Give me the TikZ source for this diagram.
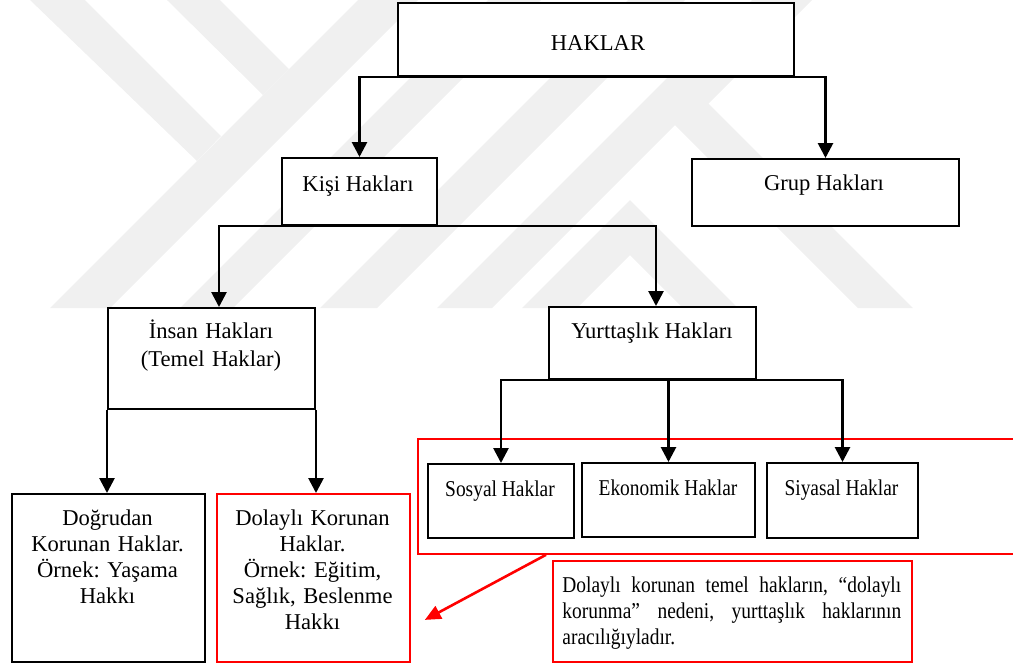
\documentclass[tikz,border=0pt]{standalone}
\usepackage{graphicx}
\usepackage{fontspec}
\setmainfont{Liberation Serif}
\usetikzlibrary{arrows.meta}

\definecolor{wmgray}{RGB}{240,240,240}
\newcommand{\sqz}[1]{\scalebox{0.86}[1]{#1}}

\tikzset{
  box/.style={draw=black, line width=1pt, fill=white, inner sep=0pt, anchor=north west},
  redbox/.style={box, draw=red, line width=0.9pt},
  lbl/.style={inner sep=0pt, anchor=base, font=\fontsize{11.3}{13}\selectfont\frenchspacing},
  arr/.style={line width=1.35pt, -{Triangle[width=7.5pt,length=7.5pt]}},
  redarr/.style={draw=red, line width=1.3pt, -{Triangle[width=7pt,length=8pt]}}
}

\begin{document}
\begin{tikzpicture}[x=0.5pt,y=-0.5pt]
	\useasboundingbox (0,0) rectangle (1013,666);
	\clip (0,0) rectangle (1013,666);
	% watermark
	\fill[wmgray] (30,0) -- (85,0) -- (221,136) -- (197,161) -- cycle;
	\fill[wmgray] (167,0) -- (220,0) -- (289,69) -- (263,95) -- cycle;
	\fill[wmgray] (50,308) -- (110,308) -- (418,0) -- (358,0) -- cycle;
	\fill[wmgray] (180,308) -- (233,308) -- (541,0) -- (488,0) -- cycle;
	\fill[wmgray] (320,308) -- (377,308) -- (685,0) -- (628,0) -- cycle;
	\fill[wmgray] (752,0) -- (812,0) -- (690,122) -- (660,92) -- cycle;
	\fill[wmgray] (437,308) -- (675,70) -- (913,308) -- (858,308) -- (675,125) -- (492,308) -- cycle;
	\fill[wmgray] (522,308) -- (630,200) -- (738,308) -- (683,308) -- (630,255) -- (577,308) -- cycle;
	% boxes
	\node[redbox, fill=none, minimum width=301.5pt, minimum height=57.5pt] (grp) at (417,438) {};
	\node[box, minimum width=198pt, minimum height=36.5pt] (haklar) at (397,2) {};
	\node[box, minimum width=77.5pt, minimum height=33.5pt] (kisi) at (281,157) {};
	\node[box, minimum width=133.5pt, minimum height=33.5pt] (grup) at (691,158) {};
	\node[box, minimum width=103.5pt, minimum height=50.5pt] (insan) at (107,307) {};
	\node[box, minimum width=103.5pt, minimum height=36pt] (yurt) at (548,306) {};
	\node[box, minimum width=96.5pt, minimum height=84pt] (dogrudan) at (11,493) {};
	\node[redbox, minimum width=96.5pt, minimum height=84pt] (dolayli) at (216,493) {};
	\node[box, minimum width=73pt, minimum height=37pt] (sosyal) at (427,463) {};
	\node[box, minimum width=86.5pt, minimum height=37pt] (ekonomik) at (581,462) {};
	\node[box, minimum width=75.5pt, minimum height=37.5pt] (siyasal) at (766,462) {};
	\node[redbox, minimum width=179.5pt, minimum height=50.5pt] (note) at (552,560) {};
	% texts
	\node[lbl] (haklar-t) at (598,50) {HAKLAR};
	\node[lbl] (kisi-t) at (358,191) {Kişi Hakları};
	\node[lbl] (grup-t) at (824,190) {Grup Hakları};
	\node[lbl, text width=100pt, align=center] (insan-t) at (211,338) {İnsan Hakları\\[1pt](Temel Haklar)};
	\node[lbl] (yurt-t) at (652,338) {Yurttaşlık Hakları};
	\node[lbl, text width=95pt, align=center] (dogrudan-t) at (107.5,525) {Doğrudan\\Korunan Haklar.\\Örnek: Yaşama\\Hakkı};
	\node[lbl, text width=95pt, align=center] (dolayli-t) at (312.5,525) {Dolaylı Korunan\\Haklar.\\Örnek: Eğitim,\\Sağlık, Beslenme\\Hakkı};
	\node[lbl] (sosyal-t) at (500,496) {\sqz{Sosyal Haklar}};
	\node[lbl] (ekonomik-t) at (668,495) {\sqz{Ekonomik Haklar}};
	\node[lbl] (siyasal-t) at (841.5,495) {\sqz{Siyasal Haklar}};
	\node[lbl, anchor=base west, text width=170pt, align=left] (note-t) at (562,592) {\sqz{\hbox to 197pt{Dolaylı\hfill korunan\hfill temel\hfill hakların,\hfill “dolaylı}}\\\sqz{\hbox to 197pt{korunma”\hfill nedeni,\hfill yurttaşlık\hfill haklarının}}\\\sqz{aracılığıyladır.}};
	% connectors
	\draw[arr] (haklar.south) -| (kisi.north);
	\draw[arr] (haklar.south) -| (grup.north);
	\draw[arr] (kisi.south) -| ([xshift=3.75pt]insan.north);
	\draw[arr] (kisi.south) -| ([xshift=1.75pt]yurt.north);
	\draw[arr] (insan.south west) -- (insan.south west |- dogrudan.north);
	\draw[arr] (insan.south east) -- (insan.south east |- dolayli.north);
	\draw[arr] (yurt.south) -| (sosyal.north);
	\draw[arr] (yurt.south) -| (ekonomik.north);
	\draw[arr] (yurt.south) -| (siyasal.north);
	\coordinate (tip) at ([xshift=7pt,yshift=-21pt]dolayli.east);
	\draw[redarr] ([xshift=64.5pt]grp.south west) -- (tip);
\end{tikzpicture}
\end{document}
